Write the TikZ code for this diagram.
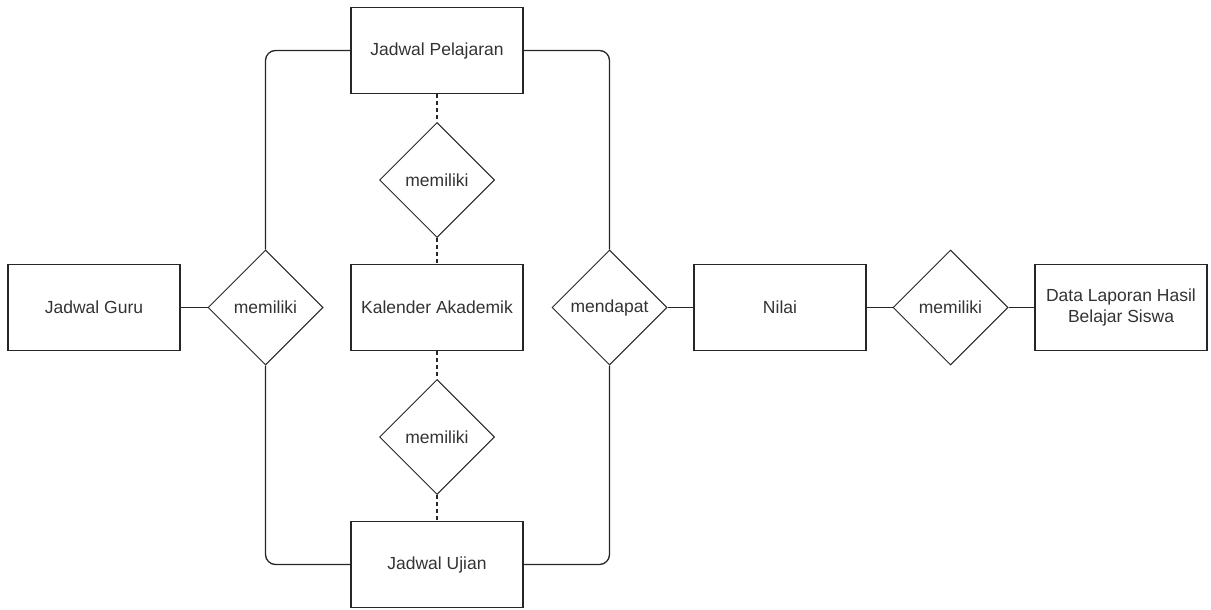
\documentclass[tikz,border=0pt]{standalone}
\usepackage{fontspec}
\setmainfont{Liberation Sans}
\usetikzlibrary{shapes.geometric}
\begin{document}
\begin{tikzpicture}[x=1pt,y=-1pt,
  ent/.style={draw=black!85,line width=1.3pt,minimum width=172pt,minimum height=86pt,inner sep=0pt,font=\fontsize{17.5}{20.5}\selectfont,align=center,text=black!80},
  rel/.style={draw=black!85,line width=1pt,diamond,minimum width=115pt,minimum height=115pt,inner sep=0pt,aspect=1,font=\fontsize{17.5}{20.5}\selectfont,text=black!80},
  link/.style={draw=black!85,line width=1.3pt,rounded corners=10pt},
  dlink/.style={draw=black!85,line width=1.3pt,dash pattern=on 4pt off 3pt}]
\useasboundingbox (0,0) rectangle (1211,610);
\node[ent] (jp) at (437,50.5) {Jadwal Pelajaran};
\node[ent] (ka) at (437,307.5) {Kalender Akademik};
\node[ent] (ju) at (437,564.5) {Jadwal Ujian};
\node[ent] (jg) at (94,307.5) {Jadwal Guru};
\node[ent] (ni) at (780,307.5) {Nilai};
\node[ent] (dl) at (1121,307.5) {Data Laporan Hasil\\Belajar Siswa};
\node[rel] (m1) at (265.5,307.5) {memiliki};
\node[rel] (m2) at (437,180) {memiliki};
\node[rel] (m3) at (437,437) {memiliki};
\node[rel] (md) at (609.5,307.5) {mendapat};
\node[rel] (m4) at (950.5,307.5) {memiliki};
\draw[link] (m1.north) |- (jp.west);
\draw[link] (m1.south) |- (ju.west);
\draw[link] (md.north) |- (jp.east);
\draw[link] (md.south) |- (ju.east);
\draw[link] (jg.east) -- (m1.west);
\draw[link] (md.east) -- (ni.west);
\draw[link] (ni.east) -- (m4.west);
\draw[link] (m4.east) -- (dl.west);
\draw[dlink] (jp.south) -- (m2.north);
\draw[dlink] (m2.south) -- (ka.north);
\draw[dlink] (ka.south) -- (m3.north);
\draw[dlink] (m3.south) -- (ju.north);
\end{tikzpicture}
\end{document}
